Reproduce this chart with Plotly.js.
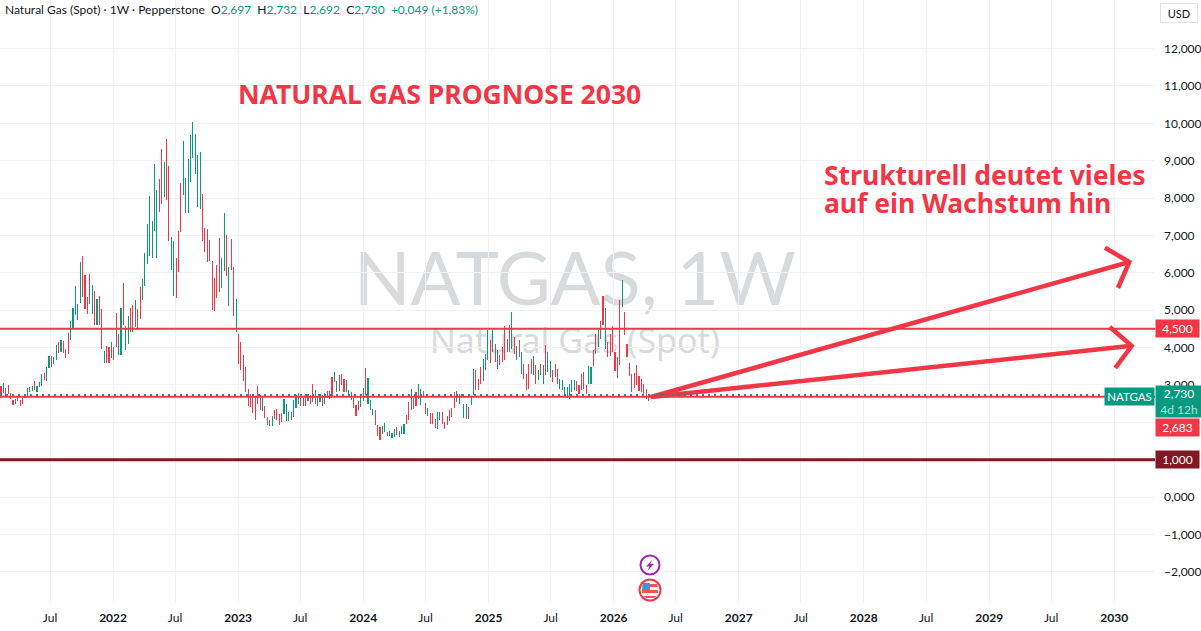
<!DOCTYPE html>
<html><head><meta charset="utf-8">
<script src="https://cdn.plot.ly/plotly-3.0.1.min.js"></script>
<style>html,body{margin:0;padding:0;background:#fff;overflow:hidden}#c{width:1201px;height:631px}</style>
</head><body><div id="c"></div>
<script>
const firstWeek = '2021-02-08';
const highs = [2964,3044,2928,2991,2786,2590,2626,2661,2590,2661,2768,2919,2937,2964,3107,2964,3071,3285,3311,3481,
3766,3766,3739,4060,4149,4193,4166,3970,4380,4701,5048,5636,5173,6277,6438,5930,5351,5966,5663,5502,
5289,5369,5021,3899,4036,4015,4149,4015,4923,4371,5048,5716,4567,4843,5048,5128,5262,5021,5609,5823,
6518,7319,8068,7399,8923,8228,8522,9323,8976,9591,8869,6945,6838,6384,7132,8415,9537,8548,9056,9697,
10045,9724,9163,9243,8121,7212,7159,6865,6304,5850,6197,6919,6384,7613,7000,6144,6892,6144,5289,4354,
4140,3792,3472,2884,2750,2697,2679,2964,2723,2679,2430,2144,2073,2162,2323,2358,2233,2242,2617,2501,
2278,2269,2590,2723,2795,2661,2661,2750,2760,2741,3017,2857,2679,2768,2723,2786,2830,2839,3214,3347,
3098,3258,3285,3151,3125,2858,2804,2662,2457,2564,2679,2929,3445,3196,2608,2367,2323,1940,1878,1895,
1985,1744,1771,1700,1815,1878,1762,1895,1949,2189,2546,2884,2661,2813,3018,2884,2840,2519,2385,2252,
2252,2100,2278,2278,2278,2011,2163,2323,2394,2813,2840,2751,2768,2501,2501,2412,2679,3418,3392,3151,
3480,3703,3825,4479,4193,4479,4104,3926,3793,4015,4568,4238,4595,4942,4283,4033,4193,3882,3570,3303,
3552,3704,3766,3525,3392,3570,3525,4060,3882,3641,3392,3570,3437,3151,3125,2947,2947,3036,3125,3125,
3098,2991,3303,3347,2991,3499,3481,3926,4354,4505,4701,5369,5066,4149,4372,4568,3882,3748,5280,5797,
4942,4104,3588,3303,3321,3526,3232,3151,3036,2902,2724,2732];
const lows = [2715,2786,2679,2750,2634,2465,2492,2572,2430,2483,2661,2714,2821,2839,2857,2804,2946,2973,3124,3107,
3454,3481,3552,3659,3855,3881,3855,3712,3837,4193,4532,4861,4728,5191,5351,5039,4906,5173,4906,4594,
4612,4594,3962,3587,3587,3587,3730,3677,4015,3792,3810,4594,3926,4086,4416,4407,4549,4460,4754,5262,
5636,6233,6438,6384,7132,6384,7640,7854,8041,7961,6838,6063,5369,5315,6010,7079,8094,7613,7613,8442,
9083,8655,7774,7720,6838,6544,6277,6304,4995,4968,5315,5476,5583,6037,5903,5102,6063,4835,4407,3552,
3392,3098,2804,2430,2403,2243,2055,2483,2323,2296,2109,1922,1895,1895,2100,2055,1922,2002,2216,2038,
2038,2055,2144,2394,2483,2447,2430,2430,2560,2483,2536,2501,2430,2536,2430,2501,2661,2625,2697,3071,
2804,2831,2991,2804,2804,2724,2590,2377,2163,2323,2412,2572,2724,2501,2323,2189,1940,1637,1521,1682,
1744,1628,1646,1575,1593,1673,1593,1682,1682,1949,2074,2323,2367,2430,2635,2457,2679,2216,2163,1967,
1967,1860,1833,2074,1967,1833,1922,2029,2145,2394,2546,2501,2661,2127,2100,2082,2457,2724,2857,2857,
3035,3097,3400,3659,3588,3882,3615,3419,3525,3615,3677,3882,3882,3971,3819,3677,3748,3285,3169,2857,
2902,3285,3258,3036,3125,3258,3036,3258,3347,3214,3080,3214,3018,2902,2857,2724,2662,2617,2813,2857,
2840,2751,2857,2902,2768,3036,3036,3508,3837,4015,4238,4594,3971,3748,3766,3882,3374,3196,3526,5084,
4327,3748,3232,2813,2929,2991,2840,2813,2768,2635,2573,2692];
const upWeeks = "dudddduddduuuuduuuduuduududdduuuuuddddududduddudduuduuddudduuuuuuuddudduuddduuuuuuuudddddddduududduddddddddddudduudddduuuduuuddduddudududdduuddduuuddduuduuuddduuduuuduuuddudduudduddduudddddduuduuduuddduuudududddududududdddudududuuddduuuuuuuddddduuddudduddddddu";
const yTicks = [-2000,-1000,0,1000,2000,3000,4000,5000,6000,7000,8000,9000,10000,11000,12000];
const yTickText = ['\u22122,000','\u22121,000','0,000','','','3,000','4,000','5,000','6,000','7,000','8,000','9,000','10,000','11,000','12,000'];
const xTicks = ['2021-07-01','2022-01-01','2022-07-01','2023-01-01','2023-07-01','2024-01-01','2024-07-01','2025-01-01','2025-07-01','2026-01-01','2026-07-01','2027-01-01','2027-07-01','2028-01-01','2028-07-01','2029-01-01','2029-07-01','2030-01-01'];
const xTickText = ['Jul','<b>2022</b>','Jul','<b>2023</b>','Jul','<b>2024</b>','Jul','<b>2025</b>','Jul','<b>2026</b>','Jul','<b>2027</b>','Jul','<b>2028</b>','Jul','<b>2029</b>','Jul','<b>2030</b>'];
const arrowUpperX = ['2026-04-20','2030-02-14',null,'2029-12-05','2030-02-14','2030-01-12'];
const arrowUpperY = [2676,6289,null,6670,6289,5593];
const arrowLowerX = ['2026-04-20','2030-02-21',null,'2029-12-19','2030-02-21','2030-01-04'];
const arrowLowerY = [2676,4045,null,4549,4045,3452];
const resistance = 4500, support = 1000, prevClose = 2683, lastPrice = 2730;

const GREEN='#089981', RED='#F23645', DARKRED='#801922', INK='#131722', GRID='#F0F1F4';
const FONT='"Noto Sans", Lato, sans-serif';
const SMALL='Lato, "Noto Sans", sans-serif';
const W=1155, H=603;
const px=x=>x/W, py=y=>1-y/H;

const dates = highs.map((_,i)=>{const d=new Date(firstWeek+'T00:00:00Z');d.setUTCDate(d.getUTCDate()+7*i);return d.toISOString().slice(0,10);});
const barColors = highs.map((_,i)=>upWeeks[i]==='u'?GREEN:RED);

const bars = {type:'bar',x:dates,base:lows,y:highs.map((h,i)=>h-lows[i]),
  width:3.2*86400000,marker:{color:barColors,line:{width:0}},hoverinfo:'skip',showlegend:false};
const arrow=(x,y)=>({type:'scatter',mode:'lines',x,y,connectgaps:false,hoverinfo:'skip',showlegend:false,
  line:{color:RED,width:4.5,shape:'linear'}});

function hline(v,color,width,x1,dash){return {type:'line',xref:'paper',yref:'y',x0:0,x1:x1,y0:v,y1:v,line:{color,width,dash:dash||'solid'}};}
function poly(pts,fill){return {type:'path',xref:'paper',yref:'paper',path:'M '+pts.map(p=>px(p[0])+','+py(p[1])).join(' L ')+' Z',fillcolor:fill,line:{width:0}};}
function circle(cx,cy,r,line,lw,fill){return {type:'circle',xref:'paper',yref:'paper',x0:px(cx-r),x1:px(cx+r),y0:py(cy+r),y1:py(cy-r),line:{color:line,width:lw},fillcolor:fill};}
function watermark(text,size,x0,x1,y0,y1,fam){return {type:'rect',layer:'below',xref:'paper',yref:'paper',x0:px(x0),x1:px(x1),y0:py(y1),y1:py(y0),
  line:{width:0},fillcolor:'rgba(0,0,0,0)',label:{text,textposition:'middle center',font:{family:fam,size,color:'#D9DADC'}}};}

const shapes=[
  watermark('NATGAS,\u00a01W',74,340,810,225,325,SMALL),
  watermark('Natural Gas (Spot)',34,410,740,322,362,FONT),
  hline(resistance,RED,2,1),
  hline(prevClose,RED,2,1),
  hline(lastPrice,GREEN,2,1104/W,'2px,4px'),
  hline(support,DARKRED,3,1),
  circle(650,565,9.5,'#9C27B0',2,'#fff'),
  poly([[652.5,559.5],[646,566.5],[649.5,566.5],[647.5,571],[654,563.8],[650.2,563.8]],'#9C27B0'),
  circle(650,590,10.5,RED,2,'#fff'),
  poly([[643,584],[657,584],[658,587],[642,587]],'#F0535F'),
  poly([[642,590],[658,590],[658,593],[642,593]],'#F0535F'),
  poly([[643,596],[657,596],[654,598],[646,598]],'#F0535F'),
  poly([[643,583],[650,583],[650,590],[642,590]],'#4A90D9')
];

function priceLabel(text,v,bg,w){return {xref:'paper',yref:'y',x:1,y:v,xanchor:'left',yanchor:'middle',xshift:0,showarrow:false,align:'center',
  text,width:w||43,height:17,bgcolor:bg,borderpad:0,font:{family:SMALL,size:12,color:'#fff'}};}
function textAt(text,x,y,size,color,fam){return {xref:'paper',yref:'paper',x:px(x),y:py(y),xanchor:'left',yanchor:'middle',showarrow:false,align:'left',text,
  font:{family:fam||FONT,size,color}};}

const g=s=>'<span style="color:'+GREEN+'">'+s+'</span>';
const annotations=[
  textAt('Natural Gas (Spot) \u00b7 1W \u00b7 Pepperstone  O'+g('2,697')+'  H'+g('2,732')+'  L'+g('2,692')+'  C'+g('2,730')+'  '+g('+0,049 (+1,83%)'),3,9,12,INK,SMALL),
  textAt('<b>NATURAL GAS PROGNOSE 2030</b>',236,94,26.5,RED),
  textAt('<b>Strukturell deutet vieles</b>',822,175,26.5,RED),
  textAt('<b>auf ein Wachstum hin</b>',822,203,26.5,RED),
  priceLabel('4,500',resistance,RED),
  priceLabel('1,000',support,DARKRED),
  {xref:'paper',yref:'paper',x:px(1155),y:py(418),xanchor:'left',yanchor:'bottom',showarrow:false,align:'center',width:46,height:31,bgcolor:GREEN,borderpad:0,
   text:'2,730<br><span style="color:#B5E0D8">4d 12h</span>',font:{family:SMALL,size:12,color:'#fff'}},
  {xref:'paper',yref:'paper',x:px(1155),y:py(418),xanchor:'left',yanchor:'top',showarrow:false,align:'center',width:43,height:17,bgcolor:RED,borderpad:0,
   text:'2,683',font:{family:SMALL,size:12,color:'#fff'}},
  {xref:'paper',yref:'paper',x:px(1104),y:py(387),xanchor:'left',yanchor:'top',showarrow:false,align:'center',width:49,height:17,bgcolor:GREEN,borderpad:0,
   text:'NATGAS',font:{family:SMALL,size:11.5,color:'#fff'}},
  {xref:'paper',yref:'paper',x:px(1160),y:py(3),xanchor:'left',yanchor:'top',showarrow:false,align:'center',width:36,height:18,bgcolor:'#fff',bordercolor:'#E0E3EB',borderwidth:1,borderpad:0,
   text:'USD',font:{family:SMALL,size:11,color:INK}}
];

const layout={
  width:1201,height:631,margin:{l:0,r:46,t:0,b:28,pad:0},paper_bgcolor:'#fff',plot_bgcolor:'#fff',
  showlegend:false,bargap:0,shapes,annotations,font:{family:SMALL,color:INK},
  xaxis:{type:'date',range:['2021-02-05','2030-04-30'],tickmode:'array',tickvals:xTicks,ticktext:xTickText,tickangle:0,
    showgrid:true,gridcolor:GRID,gridwidth:1,zeroline:false,showline:false,ticks:'',ticklabelstandoff:6,tickfont:{family:SMALL,size:12,color:INK}},
  yaxis:{side:'right',range:[-2836,13300],tickmode:'array',tickvals:yTicks,ticktext:yTickText,
    showgrid:true,gridcolor:GRID,gridwidth:1,zeroline:false,showline:false,ticks:'',ticklabelstandoff:8,tickfont:{family:SMALL,size:12,color:INK}}
};
Plotly.newPlot('c',[bars,arrow(arrowUpperX,arrowUpperY),arrow(arrowLowerX,arrowLowerY)],layout,{displayModeBar:false,staticPlot:true});
</script></body></html>
